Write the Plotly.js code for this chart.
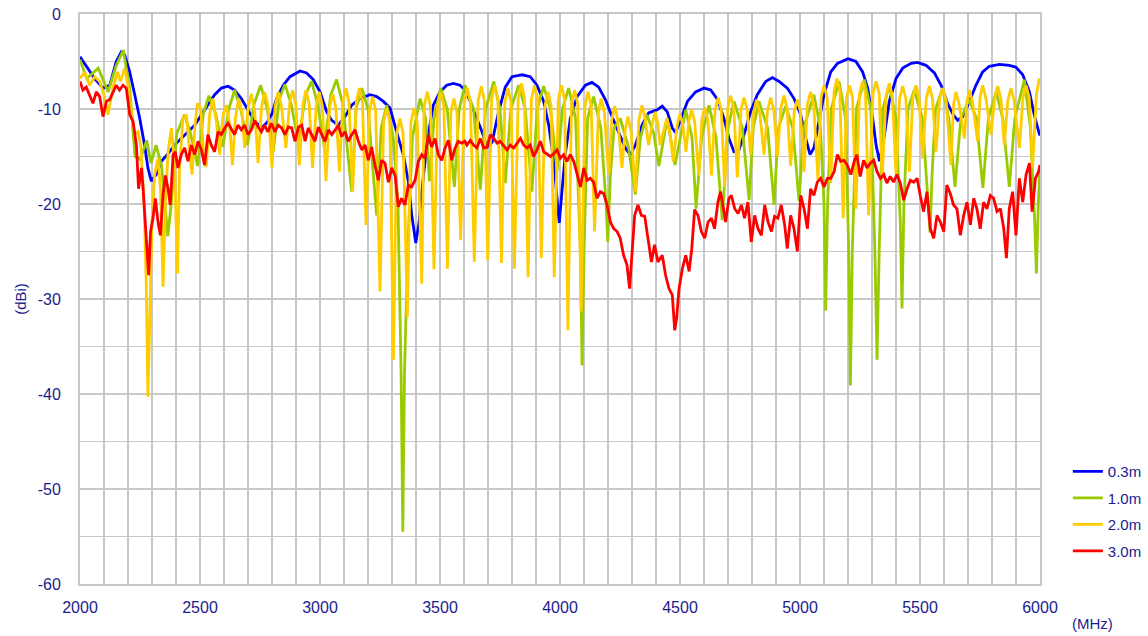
<!DOCTYPE html>
<html>
<head>
<meta charset="utf-8">
<script src="https://cdn.plot.ly/plotly-3.0.1.min.js"></script>
<style>
  html, body { margin: 0; padding: 0; background: #ffffff; }
  #chart { width: 1148px; height: 636px; }
</style>
</head>
<body>
<div id="chart"></div>
<script>
// ---------- data ----------
const seriesNames = ["0.3m", "1.0m", "2.0m", "3.0m"];

const blueFreq = [2000,2033,2061,2096,2124,2151,2172,2186,2207,2228,2249,2269,2283,2297,2318,2339,2367,2394,2422,2450,2478,2506,2533,2561,2589,2617,2644,2672,2700,2728,2756,2780,2800,2819,2847,2875,2917,2944,2972,3000,3028,3049,3076,3104,3132,3167,3208,3236,3264,3292,3319,3347,3368,3382,3399,3413,3431,3451,3472,3500,3528,3556,3583,3600,3619,3647,3675,3696,3717,3744,3772,3800,3842,3876,3904,3932,3953,3974,3988,3997,4008,4022,4043,4071,4106,4133,4161,4189,4217,4244,4272,4293,4314,4342,4369,4404,4426,4447,4468,4482,4503,4531,4565,4600,4628,4656,4683,4704,4725,4746,4767,4794,4822,4857,4885,4913,4947,4975,5003,5024,5042,5058,5079,5100,5128,5156,5200,5233,5261,5282,5303,5317,5331,5352,5372,5400,5428,5463,5490,5525,5560,5588,5615,5636,5657,5678,5706,5733,5761,5789,5831,5872,5900,5928,5956,5976,5997,6000];
const blueDbi = [-4.5,-5.7,-6.8,-7.8,-7.5,-5.0,-4.0,-4.3,-6.1,-8.5,-11.0,-13.8,-16.2,-17.6,-16.9,-15.5,-14.7,-13.8,-13.1,-12.4,-11.7,-10.6,-9.6,-8.5,-7.8,-7.6,-8.0,-8.9,-10.1,-11.3,-12.0,-11.4,-10.5,-8.9,-7.5,-6.6,-6.0,-6.2,-6.9,-8.2,-10.3,-11.2,-11.7,-10.8,-9.6,-8.9,-8.5,-8.7,-9.2,-9.9,-12.4,-14.8,-17.6,-21.1,-24.1,-21.9,-17.0,-12.7,-9.6,-8.2,-7.5,-7.3,-7.5,-7.9,-8.8,-10.6,-12.4,-14.0,-13.5,-10.3,-7.7,-6.6,-6.4,-6.6,-7.5,-9.2,-11.7,-15.5,-19.0,-22.0,-18.7,-14.8,-11.0,-8.7,-7.5,-7.2,-7.7,-9.0,-10.8,-12.4,-14.1,-14.8,-13.8,-11.7,-10.4,-10.1,-9.7,-10.3,-12.0,-12.5,-11.0,-9.2,-8.2,-7.8,-8.0,-9.0,-11.0,-13.1,-14.5,-14.3,-12.7,-10.3,-8.5,-7.1,-6.7,-7.1,-7.8,-8.9,-10.6,-13.1,-14.8,-14.1,-11.3,-8.5,-6.1,-5.2,-4.7,-5.0,-6.1,-7.8,-11.0,-13.8,-15.5,-12.7,-9.2,-6.8,-5.7,-5.2,-5.1,-5.4,-6.2,-7.5,-9.4,-10.5,-11.2,-10.8,-9.2,-7.5,-6.1,-5.5,-5.3,-5.4,-5.6,-6.4,-8.2,-10.6,-12.6,-12.8];

const greenFreq = [2000,2028,2076,2117,2150,2180,2208,2229,2250,2278,2296,2317,2340,2366,2380,2403,2435,2460,2490,2514,2537,2565,2595,2620,2644,2670,2698,2725,2753,2780,2805,2830,2854,2880,2910,2940,2965,2990,3018,3045,3069,3095,3132,3150,3174,3200,3236,3255,3278,3305,3325,3338,3345,3352,3365,3385,3417,3440,3456,3475,3503,3530,3560,3580,3604,3640,3668,3690,3724,3750,3772,3795,3828,3855,3883,3905,3932,3960,3988,4010,4036,4065,4085,4092,4100,4115,4140,4170,4192,4199,4210,4225,4251,4285,4314,4335,4362,4390,4412,4447,4479,4524,4550,4567,4590,4621,4650,4676,4700,4725,4760,4788,4805,4829,4865,4892,4910,4940,4970,4996,5015,5058,5085,5100,5107,5115,5130,5163,5190,5203,5210,5218,5235,5268,5295,5312,5321,5330,5345,5372,5400,5418,5425,5433,5450,5476,5510,5535,5542,5550,5565,5594,5620,5646,5670,5705,5735,5762,5785,5817,5845,5872,5895,5935,5960,5978,5985,5993,6000];
const greenDbi = [-4.8,-6.8,-5.7,-8.2,-5.5,-3.8,-8.0,-15.0,-15.3,-13.3,-15.7,-13.8,-16.0,-23.4,-20.0,-12.6,-10.6,-12.5,-16.0,-10.5,-8.6,-10.5,-14.0,-10.0,-8.0,-10.0,-13.8,-9.5,-7.5,-10.0,-14.5,-9.0,-7.4,-9.5,-13.5,-8.5,-7.1,-9.5,-14.0,-8.5,-6.9,-9.5,-18.7,-10.0,-7.8,-10.0,-21.2,-12.0,-9.6,-13.0,-20.0,-38.0,-54.5,-38.0,-25.0,-13.0,-8.9,-11.0,-17.6,-11.0,-7.8,-10.0,-18.2,-10.0,-7.5,-10.0,-18.5,-10.0,-7.1,-10.0,-17.8,-10.0,-7.5,-10.0,-18.7,-10.0,-7.6,-10.0,-16.5,-10.0,-7.8,-11.0,-25.0,-37.0,-25.0,-11.0,-8.7,-12.0,-20.0,-24.0,-17.0,-12.0,-11.0,-14.0,-19.0,-13.0,-10.6,-12.5,-16.0,-11.0,-15.9,-10.1,-13.0,-20.5,-13.0,-9.6,-13.0,-21.7,-12.0,-9.2,-12.0,-19.6,-12.0,-9.2,-12.0,-20.1,-12.0,-9.7,-12.0,-19.7,-12.0,-8.5,-12.0,-20.0,-31.2,-20.0,-10.0,-7.1,-11.0,-25.0,-39.1,-25.0,-10.0,-6.9,-10.0,-25.0,-36.4,-25.0,-10.0,-7.5,-11.0,-22.0,-31.0,-20.0,-10.0,-8.0,-11.0,-20.0,-23.0,-17.0,-10.0,-7.8,-11.0,-18.2,-11.0,-9.0,-11.0,-18.3,-11.0,-8.2,-11.0,-18.2,-11.0,-6.9,-12.0,-22.0,-27.3,-20.0,-16.0];

const yellowFreq = [2000,2019,2040,2061,2082,2100,2117,2137,2156,2169,2186,2200,2214,2228,2242,2253,2267,2276,2283,2290,2300,2311,2325,2336,2346,2356,2367,2381,2394,2406,2415,2429,2443,2457,2467,2478,2489,2503,2517,2526,2540,2554,2568,2582,2596,2610,2624,2635,2647,2661,2675,2686,2700,2714,2728,2742,2756,2769,2783,
  2800,2813,2826,2839,2858,2873,2886,2899,2914,2929,2942,2955,2969,2984,2997,3010,3025,3040,3053,3066,3081,3095,3108,3121,3136,3151,3164,3177,3192,3206,3219,3232,3250,3265,3278,3291,3306,3320,3333,3346,3364,3379,3392,3405,3424,3434,3447,3460,3475,3490,3503,3516,3531,3545,3558,3571,3586,3601,3614,3627,3643,3659,3672,3685,3699,3715,3728,3741,3756,3770,3783,3796,3810,3826,3839,3852,3867,3881,3894,3907,3922,3937,3950,3963,3976,3993,4006,4019,4033,4048,4061,4074,4088,4104,4117,4130,4144,
  4160,4172,4185,4203,4215,4228,4241,4258,4271,4283,4296,4314,4329,4342,4355,4369,4385,4397,4407,4417,4433,4445,4457,4472,4488,4500,4512,4525,4537,4548,4561,4578,4591,4603,4616,4631,4646,4659,4672,4686,4699,4711,4724,4739,4754,4767,4780,4794,4807,4819,4832,4850,4865,4878,4891,4906,4920,4933,4946,4961,4976,4989,5002,5017,5031,5044,5057,5075,5088,5100,5113,5128,5142,5154,5166,5180,5194,5206,5219,5233,5248,5261,5273,5286,5304,5317,5330,5342,5359,5372,5385,5400,5415,5428,5441,5456,5470,5483,5496,5511,5526,5539,5552,5567,5581,5594,5609,5629,5640,5650,5663,5685,5695,5706,5719,5740,5750,5761,5774,5796,5811,5824,5837,5851,5866,5879,5892,5914,5929,5942,5955,5969,5985,5997];
const yellowDbi = [-6.8,-6.1,-7.5,-6.6,-7.1,-8.5,-10.6,-7.8,-6.1,-7.1,-5.7,-7.5,-10.3,-12.7,-12.4,-13.8,-19.8,-28.5,-40.3,-33.8,-21.9,-16.9,-15.2,-18.7,-28.7,-19.8,-14.5,-12.0,-15.9,-27.3,-16.2,-11.0,-10.6,-14.5,-16.9,-12.0,-9.4,-9.9,-15.5,-16.1,-10.6,-8.9,-11.3,-14.8,-10.6,-9.6,-11.7,-15.9,-11.0,-8.9,-10.3,-14.1,-9.9,-8.4,-10.3,-15.7,-9.9,-8.2,-9.6,
  -16.2,-9.7,-8.2,-9.7,-14.1,-9.5,-8.0,-9.5,-15.9,-9.5,-8.0,-9.5,-16.2,-9.7,-8.2,-9.7,-17.6,-9.9,-8.4,-9.9,-16.6,-9.3,-7.8,-9.3,-18.7,-9.3,-7.8,-9.3,-22.2,-10.2,-8.7,-10.2,-29.2,-11.4,-9.9,-11.4,-36.4,-12.5,-11.0,-12.5,-31.9,-11.4,-9.9,-11.4,-28.4,-9.7,-8.2,-9.7,-26.9,-9.7,-8.2,-9.7,-26.8,-10.4,-8.9,-10.4,-23.8,-9.3,-7.8,-9.3,-26.1,-9.1,-7.6,-9.1,-25.9,-9.0,-7.5,-9.0,-26.2,-9.3,-7.8,-9.3,-26.8,-8.8,-7.3,-8.8,-27.7,-9.0,-7.5,-9.0,-25.7,-9.7,-8.2,-9.7,-27.7,-9.0,-7.5,-9.0,-33.3,-9.5,-8.0,-9.5,-31.3,-9.7,-8.2,-9.7,-22.9,
  -10.4,-8.9,-10.4,-16.9,-11.2,-9.7,-11.2,-16.2,-12.3,-10.8,-12.3,-18.7,-11.1,-9.6,-11.1,-13.8,-11.5,-10.3,-11.5,-13.8,-12.2,-11.0,-12.2,-15.5,-11.7,-10.5,-11.7,-14.5,-11.3,-10.1,-11.3,-17.0,-11.1,-9.8,-11.1,-17.0,-10.1,-8.8,-10.1,-18.2,-9.9,-8.6,-9.9,-17.2,-10.1,-8.8,-10.1,-14.8,-10.3,-9.0,-10.3,-14.8,-10.1,-8.8,-10.1,-15.0,-9.9,-8.6,-9.9,-16.0,-10.3,-9.0,-10.3,-16.6,-9.5,-8.2,-9.5,-17.5,-8.8,-7.5,-8.8,-17.8,-8.1,-6.8,-8.1,-21.5,-8.8,-7.5,-8.8,-20.5,-8.4,-7.1,-8.4,-21.2,-8.4,-7.1,-8.4,-17.3,-8.6,-7.3,-8.6,-16.9,-8.9,-7.6,-8.9,-16.6,-8.8,-7.5,-8.8,-15.2,-8.9,-7.6,-8.9,-14.5,-9.1,-7.8,-9.1,-15.9,-9.5,-8.2,-9.5,-13.1,-9.3,-8.0,-9.3,-13.4,-8.8,-7.5,-8.8,-12.7,-8.9,-7.6,-8.9,-13.8,-9.1,-7.8,-9.1,-14.1,-8.8,-7.5,-8.8,-16.2,-8.5,-6.8];

const redFreq = [2000,2012,2026,2040,2054,2068,2082,2096,2110,2124,2138,2151,2165,2179,2193,2207,2221,2235,2244,2256,2263,2276,2286,2294,2304,2314,2325,2335,2346,2356,2367,2376,2388,2397,2408,2422,2436,2450,2464,2478,2492,2506,2519,2533,2547,2561,2575,2589,2603,2617,2631,2644,2658,2672,2686,2700,2714,2728,2742,2756,2769,2783,2797,2812,2826,2840,2854,2868,2882,2896,2910,2924,2938,2951,2965,2979,2993,3007,3021,3035,3049,3063,3076,3090,3104,3118,3132,3146,3160,3174,3188,3201,3215,3229,3243,3257,3271,3285,3299,3313,3326,3340,3354,3368,3382,3396,3410,3424,3438,3451,3465,3479,3493,3507,3521,3535,3549,3563,3576,3590,3604,3612,3626,3640,3654,3668,3682,3696,3710,3724,3738,3751,3765,3779,3793,3807,3821,3835,3849,3863,3876,3890,3904,3918,3932,3946,3960,3974,3988,4001,4015,4029,4043,4057,4071,4085,4099,4113,4126,4140,4154,4168,4182,4196,4210,4224,4238,4251,4265,4279,4290,4300,4311,4325,4339,4353,4367,4381,4394,4408,4426,4440,4454,4468,4478,4486,4496,4510,4524,4538,4549,4561,4575,4589,4603,4617,4631,4644,4658,4669,4681,4690,4704,4714,4728,4742,4756,4769,4783,4797,4811,4825,4839,4853,4867,4881,4894,4908,4922,4936,4947,4961,4975,4989,5003,5017,5031,5044,5058,5072,5086,5100,5114,5128,5142,5156,5169,5183,5197,5212,5226,5237,5251,5265,5279,5293,5307,5321,5335,5349,5362,5376,5390,5404,5418,5432,5446,5460,5474,5488,5501,5515,5529,5543,5557,5571,5585,5599,5612,5626,5640,5654,5668,5682,5696,5710,5724,5737,5751,5765,5779,5793,5807,5821,5835,5849,5860,5872,5886,5900,5914,5928,5942,5956,5967,5981,5994,6000];
const redDbi = [-7.1,-8.0,-7.7,-8.5,-9.4,-8.2,-8.7,-10.8,-9.2,-9.0,-8.2,-7.5,-8.0,-7.5,-7.8,-10.6,-11.3,-13.8,-18.4,-16.2,-18.4,-24.0,-27.5,-22.9,-21.5,-19.4,-21.9,-23.3,-19.0,-17.0,-18.4,-20.1,-14.8,-14.5,-16.2,-14.8,-14.1,-15.5,-13.8,-14.8,-13.4,-14.3,-15.9,-12.7,-13.8,-14.5,-12.4,-12.7,-12.0,-11.5,-12.2,-12.7,-11.7,-12.2,-11.7,-12.7,-12.2,-11.2,-11.9,-12.4,-11.7,-12.4,-11.5,-12.4,-11.7,-12.0,-12.7,-11.9,-12.0,-13.4,-11.9,-11.7,-13.4,-12.0,-12.7,-13.4,-11.9,-12.7,-13.4,-12.2,-12.7,-12.2,-11.7,-12.9,-12.4,-13.4,-12.7,-12.2,-13.4,-14.3,-13.8,-15.4,-14.0,-15.9,-17.5,-15.4,-15.7,-17.7,-16.2,-17.0,-20.3,-19.4,-20.1,-18.0,-18.2,-17.5,-15.5,-14.8,-15.2,-12.7,-14.0,-13.1,-14.8,-15.4,-14.1,-13.3,-15.4,-14.1,-13.4,-13.6,-13.4,-13.8,-13.3,-13.8,-14.1,-13.1,-14.1,-14.0,-12.7,-13.1,-13.6,-13.4,-13.8,-14.3,-13.8,-14.1,-13.6,-13.1,-13.8,-14.1,-13.8,-15.0,-14.3,-13.4,-14.5,-14.8,-15.0,-14.7,-14.3,-15.2,-14.8,-15.5,-14.8,-15.5,-16.9,-18.2,-16.2,-17.5,-17.3,-17.7,-19.4,-18.7,-18.9,-20.1,-21.9,-22.6,-22.9,-23.6,-25.4,-26.4,-28.9,-24.7,-21.2,-20.1,-21.2,-21.3,-24.0,-26.1,-24.3,-26.1,-25.4,-27.5,-28.9,-29.6,-33.3,-32.0,-28.9,-26.8,-25.4,-27.1,-24.7,-20.6,-21.2,-22.9,-23.6,-21.9,-21.5,-22.6,-19.8,-18.7,-20.5,-21.9,-19.4,-19.1,-20.5,-21.0,-20.1,-21.5,-19.8,-24.0,-21.2,-22.6,-23.3,-20.1,-21.9,-22.9,-21.3,-21.5,-20.1,-22.2,-24.7,-21.2,-22.6,-25.0,-19.1,-20.5,-22.6,-18.4,-19.1,-17.7,-17.3,-18.2,-17.3,-17.3,-16.6,-14.8,-15.5,-15.4,-15.9,-16.9,-15.5,-14.8,-17.1,-15.4,-16.2,-15.7,-15.4,-16.6,-17.3,-16.9,-17.8,-17.1,-17.7,-16.9,-17.8,-19.6,-18.4,-17.5,-17.7,-17.3,-19.1,-20.8,-18.7,-22.6,-23.6,-21.2,-21.9,-22.9,-18.0,-18.9,-20.1,-20.5,-23.3,-21.2,-19.8,-22.2,-19.4,-20.5,-22.6,-19.8,-20.5,-19.1,-19.4,-20.8,-20.5,-22.6,-25.7,-20.5,-18.7,-23.3,-17.3,-19.8,-16.9,-15.7,-20.8,-17.3,-16.6,-15.9];

const xTicks = [2000, 2500, 3000, 3500, 4000, 4500, 5000, 5500, 6000];
const yTicks = [0, -10, -20, -30, -40, -50, -60];

// ---------- styling ----------
const navy = "#1c1c8c";
const gridCol = "#c8c8c8";
const fontFam = "Liberation Sans, Arial, sans-serif";

const colors = ["#0000ff", "#99cc00", "#ffcc00", "#ff0000"];
const xs = [blueFreq, greenFreq, yellowFreq, redFreq];
const ys = [blueDbi, greenDbi, yellowDbi, redDbi];

const traces = seriesNames.map((name, i) => ({
  type: "scatter",
  mode: "lines",
  name: name,
  x: xs[i],
  y: ys[i],
  line: { color: colors[i], width: 2.8 },
  legendgroup: "g" + i,
  hoverinfo: "skip"
}));

const layout = {
  width: 1148,
  height: 636,
  paper_bgcolor: "#ffffff",
  plot_bgcolor: "#ffffff",
  margin: { l: 80, r: 108, t: 14, b: 52, pad: 0, autoexpand: false },
  font: { family: fontFam, color: navy, size: 16 },
  showlegend: true,
  legend: {
    x: 1.029, xanchor: "left",
    y: 0.226, yanchor: "top",
    font: { family: fontFam, size: 15, color: navy },
    bgcolor: "rgba(0,0,0,0)",
    tracegroupgap: 4,
    traceorder: "grouped",
    itemwidth: 30
  },
  xaxis: {
    range: [2000, 6000],
    tickmode: "array",
    tickvals: xTicks,
    ticktext: xTicks.map(String),
    ticks: "",
    showgrid: true,
    gridcolor: gridCol,
    gridwidth: 1.5,
    minor: { dtick: 100, tick0: 2000, showgrid: true, gridcolor: gridCol, gridwidth: 1.5, ticks: "" },
    showline: true, linecolor: gridCol, linewidth: 2, mirror: true,
    zeroline: false,
    tickfont: { family: fontFam, size: 16, color: navy },
    ticklabelstandoff: 8
  },
  yaxis: {
    range: [-60, 0],
    tickmode: "array",
    tickvals: yTicks,
    ticktext: yTicks.map(String),
    ticks: "",
    showgrid: true,
    gridcolor: gridCol,
    gridwidth: 1.5,
    minor: { dtick: 5, tick0: 0, showgrid: true, gridcolor: gridCol, gridwidth: 1.5, ticks: "" },
    showline: true, linecolor: gridCol, linewidth: 2, mirror: true,
    zeroline: false,
    tickfont: { family: fontFam, size: 16, color: navy },
    ticklabelstandoff: 14,
    title: { text: "(dBi)", font: { family: fontFam, size: 15, color: navy }, standoff: 7 }
  },
  annotations: [{
    text: "(MHz)",
    xref: "paper", yref: "paper",
    x: 1.055, y: -0.07,
    xanchor: "center", yanchor: "middle",
    showarrow: false,
    font: { family: fontFam, size: 15, color: navy }
  }]
};

Plotly.newPlot("chart", traces, layout, { staticPlot: true, displayModeBar: false });
</script>
</body>
</html>
